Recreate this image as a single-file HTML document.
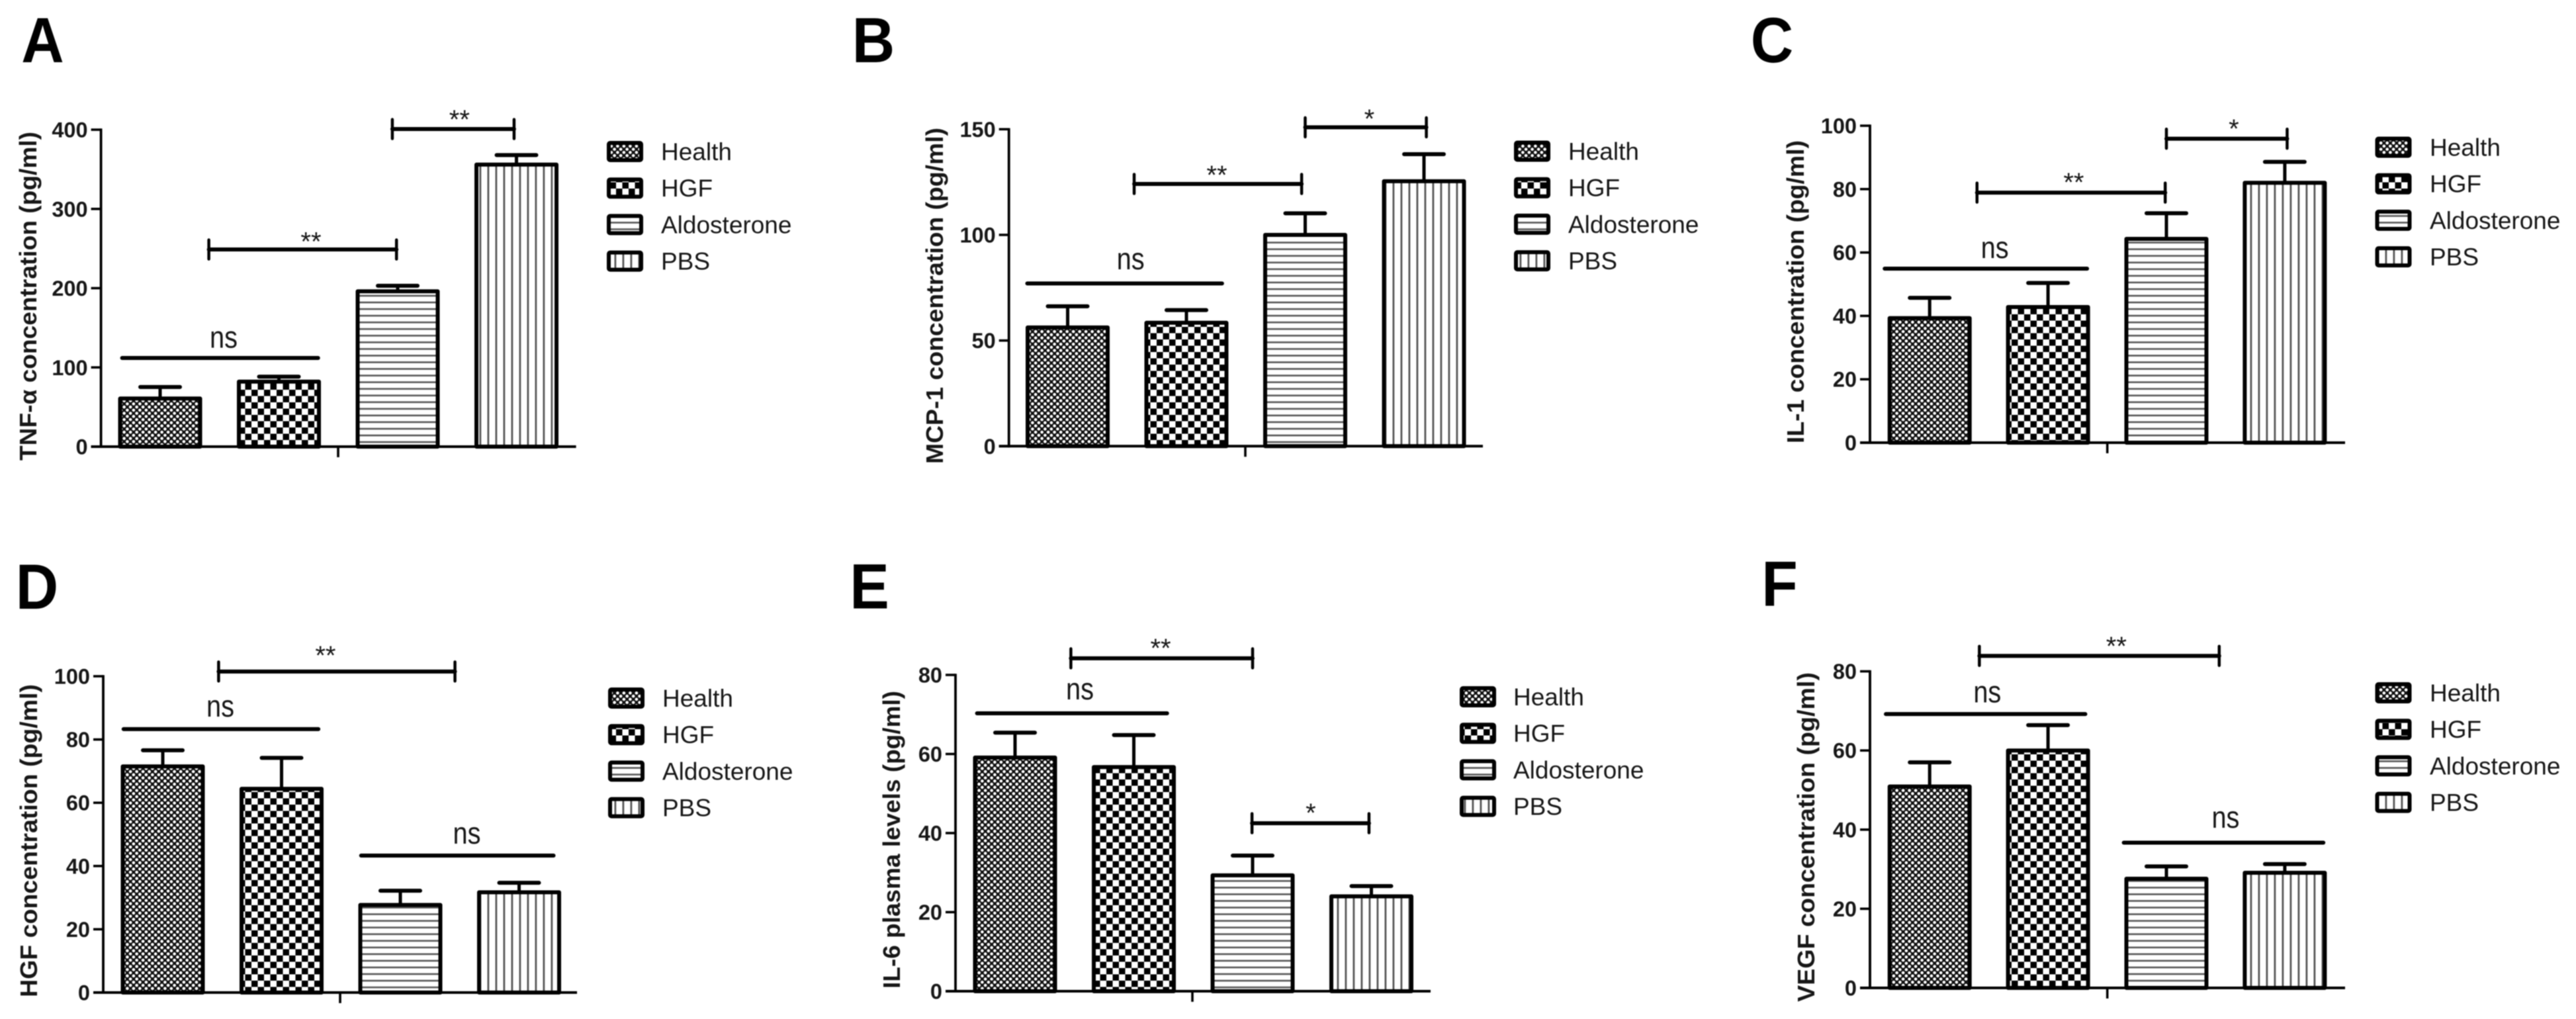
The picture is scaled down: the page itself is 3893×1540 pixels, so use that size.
<!DOCTYPE html>
<html lang="en">
<head>
<meta charset="utf-8">
<title>Cytokine concentration bar charts, panels A to F</title>
<style>
  html, body { margin: 0; padding: 0; background: #fff; }
  #figure { display: block; width: 3893px; height: 1540px; background: #fff; filter: blur(0.7px); }
  text { font-family: "Liberation Sans", sans-serif; fill: #161616; }
</style>
</head>
<body>
<svg id="figure" xmlns="http://www.w3.org/2000/svg" width="3893" height="1540" viewBox="0 0 3893 1540"></svg>
<script>
const categories = ['Health', 'HGF', 'Aldosterone', 'PBS'];

const tnfMeans = [60.7, 82, 196, 356];
const tnfErrors = [14.6, 6.3, 7, 12];
const tnfTicks = [0, 100, 200, 300, 400];
const tnfBrackets = [
  { label: 'ns', from: -0.32, to: 1.33, at: 111.9, labelCat: 0.535, labelValue: 135, capped: false },
  { label: '**', from: 0.41, to: 1.99, at: 248.8, labelCat: 1.27, labelValue: 267, capped: true },
  { label: '**', from: 1.955, to: 2.98, at: 400.8, labelCat: 2.52, labelValue: 421, capped: true }
];

const mcpMeans = [56.2, 58.4, 100, 125.4];
const mcpErrors = [10, 6, 10.2, 12.8];
const mcpTicks = [0, 50, 100, 150];
const mcpBrackets = [
  { label: 'ns', from: -0.34, to: 1.30, at: 77, labelCat: 0.53, labelValue: 87.5, capped: false },
  { label: '**', from: 0.56, to: 1.97, at: 124.1, labelCat: 1.256, labelValue: 131.3, capped: true },
  { label: '*', from: 2.0, to: 3.02, at: 150.9, labelCat: 2.54, labelValue: 157.9, capped: true }
];

const il1Means = [39.3, 42.8, 64.3, 82];
const il1Errors = [6.4, 7.6, 8.1, 6.6];
const il1Ticks = [0, 20, 40, 60, 80, 100];
const il1Brackets = [
  { label: 'ns', from: -0.38, to: 1.33, at: 54.9, labelCat: 0.55, labelValue: 60.8, capped: false },
  { label: '**', from: 0.40, to: 1.99, at: 78.9, labelCat: 1.217, labelValue: 84.1, capped: true },
  { label: '*', from: 2.0, to: 3.02, at: 95.9, labelCat: 2.57, labelValue: 101, capped: true }
];

const hgfMeans = [71.5, 64.4, 27.7, 31.7];
const hgfErrors = [5.1, 9.8, 4.5, 3];
const hgfTicks = [0, 20, 40, 60, 80, 100];
const hgfBrackets = [
  { label: '**', from: 0.47, to: 2.46, at: 101.5, labelCat: 1.37, labelValue: 108.6, capped: true },
  { label: 'ns', from: -0.33, to: 1.31, at: 83.3, labelCat: 0.485, labelValue: 89.7, capped: false },
  { label: 'ns', from: 1.67, to: 3.29, at: 43.3, labelCat: 2.56, labelValue: 49.6, capped: false }
];

const il6Means = [59.1, 56.7, 29.3, 24];
const il6Errors = [6.3, 8.1, 5, 2.6];
const il6Ticks = [0, 20, 40, 60, 80];
const il6Brackets = [
  { label: '**', from: 0.47, to: 2.0, at: 84.2, labelCat: 1.226, labelValue: 88.4, capped: true },
  { label: 'ns', from: -0.32, to: 1.28, at: 70.3, labelCat: 0.546, labelValue: 75.8, capped: false },
  { label: '*', from: 1.995, to: 2.98, at: 42.5, labelCat: 2.49, labelValue: 46.7, capped: true }
];

const vegfMeans = [50.9, 60, 27.6, 29.1];
const vegfErrors = [6.1, 6.4, 3.1, 2.2];
const vegfTicks = [0, 20, 40, 60, 80];
const vegfBrackets = [
  { label: '**', from: 0.42, to: 2.446, at: 83.9, labelCat: 1.577, labelValue: 88, capped: true },
  { label: 'ns', from: -0.37, to: 1.315, at: 69.2, labelCat: 0.487, labelValue: 74.2, capped: false },
  { label: 'ns', from: 1.64, to: 3.326, at: 36.7, labelCat: 2.5, labelValue: 42.5, capped: false }
];

/* Layout of each panel (pixels); the data above is mapped through xOf / yOf. */
const panels = [
  { id: 'a', letter: 'A', letterX: 64.5, letterY: 94, title: 'TNF-\u03B1 concentration (pg/ml)', titleX: 55, titleBottom: 696, titleTop: 199,
    axisX: 152.6, axisEnd: 870.6, y0: 675, yTop: 196, max: 400, firstCenter: 242, step: 179.5, groupTick: 511,
    legendX: 917, textX: 999, legendTop: 213, means: tnfMeans, errors: tnfErrors, ticks: tnfTicks, brackets: tnfBrackets },
  { id: 'b', letter: 'B', letterX: 1320, letterY: 94, title: 'MCP-1 concentration (pg/ml)', titleX: 1425, titleBottom: 701, titleTop: 193,
    axisX: 1524.7, axisEnd: 2241, y0: 674.3, yTop: 195.3, max: 150, firstCenter: 1613.5, step: 179.5, groupTick: 1882,
    legendX: 2288, textX: 2370, legendTop: 212.5, means: mcpMeans, errors: mcpErrors, ticks: mcpTicks, brackets: mcpBrackets },
  { id: 'c', letter: 'C', letterX: 2678, letterY: 94, title: 'IL-1 concentration (pg/ml)', titleX: 2726, titleBottom: 670, titleTop: 212,
    axisX: 2826, axisEnd: 3544, y0: 669, yTop: 190, max: 100, firstCenter: 2916.2, step: 178.9, groupTick: 3184.7,
    legendX: 3589.5, textX: 3672, legendTop: 206.5, means: il1Means, errors: il1Errors, ticks: il1Ticks, brackets: il1Brackets },
  { id: 'd', letter: 'D', letterX: 56, letterY: 920, title: 'HGF concentration (pg/ml)', titleX: 56, titleBottom: 1507, titleTop: 1034,
    axisX: 156, axisEnd: 872, y0: 1500, yTop: 1022, max: 100, firstCenter: 246, step: 179.5, groupTick: 514,
    legendX: 919, textX: 1001, legendTop: 1039, means: hgfMeans, errors: hgfErrors, ticks: hgfTicks, brackets: hgfBrackets },
  { id: 'e', letter: 'E', letterX: 1314, letterY: 919.6, title: 'IL-6 plasma levels (pg/ml)', titleX: 1360, titleBottom: 1494, titleTop: 1044,
    axisX: 1444, axisEnd: 2162, y0: 1498, yTop: 1020, max: 80, firstCenter: 1534, step: 179.5, groupTick: 1802,
    legendX: 2206, textX: 2287, legendTop: 1037, means: il6Means, errors: il6Errors, ticks: il6Ticks, brackets: il6Brackets },
  { id: 'f', letter: 'F', letterX: 2689.5, letterY: 915.5, title: 'VEGF concentration (pg/ml)', titleX: 2742, titleBottom: 1514, titleTop: 1016,
    axisX: 2826, axisEnd: 3544, y0: 1493, yTop: 1014.6, max: 80, firstCenter: 2916.2, step: 178.9, groupTick: 3184.7,
    legendX: 3589.5, textX: 3672, legendTop: 1031, means: vegfMeans, errors: vegfErrors, ticks: vegfTicks, brackets: vegfBrackets }
];

const BAR_WIDTH = 121, CAP_WIDTH = 60, LEGEND_STEP = 55.2;
const SVG_NS = 'http://www.w3.org/2000/svg';
const figure = document.getElementById('figure');

function make(tag, parent, attrs, text) {
  const node = document.createElementNS(SVG_NS, tag);
  for (const key in attrs) node.setAttribute(key, attrs[key]);
  if (text !== undefined) node.textContent = text;
  parent.appendChild(node);
  return node;
}

/* Hatch patterns */
const defs = make('defs', figure, {});
function patternIds() { return ['pat-health', 'pat-hgf', 'pat-aldosterone', 'pat-pbs']; }
(function buildPatterns() {
  const ids = patternIds();
  const health = make('pattern', defs, { id: ids[0], patternUnits: 'userSpaceOnUse', width: 9.5, height: 9.5 });
  make('rect', health, { width: 9.5, height: 9.5, fill: '#111' });
  make('circle', health, { cx: 2.375, cy: 2.375, r: 2.37, fill: '#fff' });
  make('circle', health, { cx: 7.125, cy: 7.125, r: 2.37, fill: '#fff' });
  make('rect', health, { x: 1, y: 1, width: 2.75, height: 2.75, fill: '#fff' });
  make('rect', health, { x: 5.75, y: 5.75, width: 2.75, height: 2.75, fill: '#fff' });
  const hgf = make('pattern', defs, { id: ids[1], patternUnits: 'userSpaceOnUse', width: 19, height: 19 });
  make('rect', hgf, { width: 19, height: 19, fill: '#fff' });
  make('rect', hgf, { x: 0, y: 0, width: 9.5, height: 9.5, fill: '#000' });
  make('rect', hgf, { x: 9.5, y: 9.5, width: 9.5, height: 9.5, fill: '#000' });
  const aldo = make('pattern', defs, { id: ids[2], patternUnits: 'userSpaceOnUse', width: 10.05, height: 10.05 });
  make('rect', aldo, { width: 10.05, height: 10.05, fill: '#fff' });
  make('rect', aldo, { x: 0, y: 3.5, width: 10.05, height: 2.6, fill: '#555' });
  const pbs = make('pattern', defs, { id: ids[3], patternUnits: 'userSpaceOnUse', width: 12, height: 12 });
  make('rect', pbs, { width: 12, height: 12, fill: '#fff' });
  make('rect', pbs, { x: 4.5, y: 0, width: 2.8, height: 12, fill: '#555' });
})();

function drawPanel(p) {
  const xOf = function (cat) { return p.firstCenter + cat * p.step; };
  const yOf = function (value) { return p.y0 - (value / p.max) * (p.y0 - p.yTop); };

  const group = make('g', figure, {});
  
  

  const letter = make('text', group, { transform: 'translate(' + p.letterX + ' ' + p.letterY + ') scale(0.92 1)', 'text-anchor': 'middle', 'font-size': 97, 'font-weight': 700, style: 'fill:#000' }, p.letter);
  
  

  const title = make('text', group, { x: p.titleX, y: p.titleBottom, transform: 'rotate(-90 ' + p.titleX + ' ' + p.titleBottom + ')', 'font-size': 36, 'font-weight': 700, textLength: p.titleBottom - p.titleTop, lengthAdjust: 'spacingAndGlyphs' }, p.title);
  
  

  /* Bars and error bars */
  categories.forEach(function (name, i) {
    const cx = xOf(i);
    const top = yOf(p.means[i]);
    const capY = yOf(p.means[i] + p.errors[i]);
    const key = name.toLowerCase();

    const stem = make('line', group, { x1: cx, x2: cx, y1: capY, y2: top, stroke: '#000', 'stroke-width': 5 });
    
    

    const cap = make('line', group, { x1: cx - CAP_WIDTH / 2, x2: cx + CAP_WIDTH / 2, y1: capY, y2: capY, stroke: '#000', 'stroke-width': 6, 'stroke-linecap': 'round' });
    
    

    const bar = make('rect', group, { x: cx - BAR_WIDTH / 2, y: top, width: BAR_WIDTH, height: p.y0 - top, fill: 'url(#' + patternIds()[i] + ')', stroke: '#000', 'stroke-width': 6, 'stroke-linejoin': 'round' });
    
    
  });

  /* Axes */
  const yAxis = make('line', group, { x1: p.axisX, x2: p.axisX, y1: p.yTop - 1.7, y2: p.y0 + 2, stroke: '#000', 'stroke-width': 3.8 });
  
  

  const xAxis = make('line', group, { x1: p.axisX - 15, x2: p.axisEnd, y1: p.y0, y2: p.y0, stroke: '#000', 'stroke-width': 4 });
  
  

  const groupTick = make('line', group, { x1: p.groupTick, x2: p.groupTick, y1: p.y0, y2: p.y0 + 16, stroke: '#000', 'stroke-width': 3.6 });
  
  

  p.ticks.forEach(function (value) {
    const y = yOf(value);
    const tick = make('line', group, { x1: p.axisX - 15, x2: p.axisX, y1: y, y2: y, stroke: '#000', 'stroke-width': 3.6 });
    
    
    const label = make('text', group, { x: p.axisX - 20, y: y + 11.5, 'text-anchor': 'end', 'font-size': 32.5, 'font-weight': 700 }, String(value));
    
    
  });

  /* Significance brackets */
  p.brackets.forEach(function (b, n) {
    const x1 = xOf(b.from), x2 = xOf(b.to), y = yOf(b.at);
    const line = make('line', group, { x1: x1, x2: x2, y1: y, y2: y, stroke: '#000', 'stroke-width': 6, 'stroke-linecap': 'round' });
    
    
    if (b.capped) {
      const left = make('line', group, { x1: x1, x2: x1, y1: y - 14.5, y2: y + 14.5, stroke: '#000', 'stroke-width': 4.5, 'stroke-linecap': 'round' });
      
      
      const right = make('line', group, { x1: x2, x2: x2, y1: y - 14.5, y2: y + 14.5, stroke: '#000', 'stroke-width': 4.5, 'stroke-linecap': 'round' });
      
      
    }
    const isNs = b.label === 'ns';
    const attrs = isNs
      ? { x: xOf(b.labelCat), y: yOf(b.labelValue) + 12, 'text-anchor': 'middle', 'font-size': 46, textLength: 42, lengthAdjust: 'spacingAndGlyphs' }
      : { x: xOf(b.labelCat), y: yOf(b.labelValue) + 23, 'text-anchor': 'middle', 'font-size': 40 };
    const mark = make('text', group, attrs, b.label);
    
    
  });

  /* Legend */
  categories.forEach(function (name, i) {
    const top = p.legendTop + i * LEGEND_STEP;
    const key = name.toLowerCase();
    const swatch = make('rect', group, { x: p.legendX + 3, y: top + 3, width: 49, height: 26, rx: 2, fill: 'url(#' + patternIds()[i] + ')', stroke: '#000', 'stroke-width': 6 });
    
    
    const entry = make('text', group, { x: p.textX, y: top + 29, 'font-size': 37 }, name);
    
    
  });
}

panels.forEach(drawPanel);
</script>
</body>
</html>
